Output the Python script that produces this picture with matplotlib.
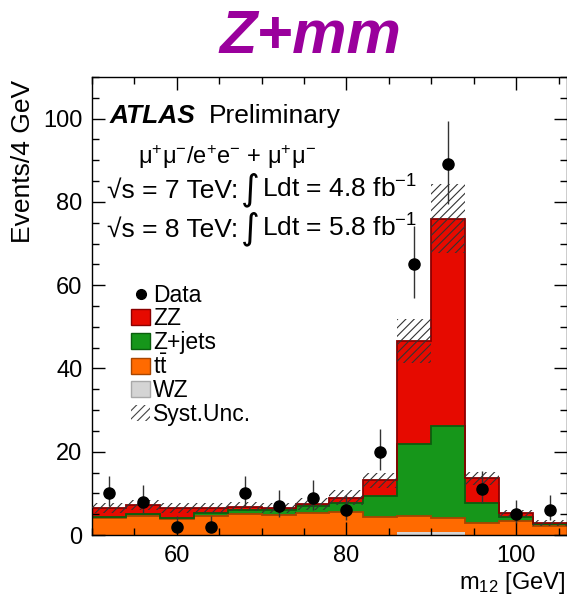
import math

import matplotlib
matplotlib.use('Agg')
import matplotlib.pyplot as plt
from matplotlib.ticker import MultipleLocator
from matplotlib.patches import Patch
from matplotlib.lines import Line2D
import numpy as np

plt.rcParams['font.family'] = ['Liberation Sans', 'DejaVu Sans']
plt.rcParams['mathtext.fontset'] = 'custom'
plt.rcParams['mathtext.rm'] = 'Liberation Sans'
plt.rcParams['mathtext.it'] = 'Liberation Sans:italic'
plt.rcParams['mathtext.bf'] = 'Liberation Sans:bold'
plt.rcParams['hatch.linewidth'] = 0.8

# m12 bins, 4 GeV wide
bin_edges = [50, 54, 58, 62, 66, 70, 74, 78, 82, 86, 90, 94, 98, 102, 106]
data_counts = [10, 8, 2, 2, 10, 7, 9, 6, 20, 65, 89, 11, 5, 6]

# background stack (bottom to top)
wz = [0, 0, 0, 0, 0, 0, 0, 0, 0, 0.7, 0.7, 0, 0, 0]
ttbar = [4.0, 4.6, 3.8, 4.6, 5.1, 4.9, 5.3, 5.6, 4.4, 3.9, 3.5, 3.0, 3.4, 2.2]
zjets = [0.3, 0.4, 0.3, 0.8, 0.8, 1.2, 1.7, 2.2, 5.0, 17.2, 21.9, 4.6, 1.0, 0.5]
zz = [2.3, 2.2, 2.3, 1.2, 0.9, 0.5, 0.5, 1.1, 3.8, 24.7, 49.9, 6.0, 0.8, 0.2]
syst = [1.2, 1.1, 1.2, 1.2, 1.1, 1.2, 1.4, 1.8, 1.8, 5.3, 8.2, 1.5, 0.8, 0.7]

legend_labels = ['Data', 'ZZ', 'Z+jets', r't$\mathrm{\bar{t}}$', 'WZ', 'Syst.Unc.']

RED, RED_EDGE = '#e60a00', '#8a0000'
GREEN, GREEN_EDGE = '#16961a', '#0b5e0e'
ORANGE, ORANGE_EDGE = '#ff6a00', '#a84500'
GREY, GREY_EDGE = '#d4d4d4', '#a8a8a8'


def poisson_cdf(k, mu):
	if k < 0:
		return 0.0
	return sum(math.exp(-mu + i * math.log(mu) - math.lgamma(i + 1)) for i in range(k + 1))


def solve(f, target, lo, hi):
	# f is decreasing in mu
	for _ in range(100):
		mid = 0.5 * (lo + hi)
		if f(mid) > target:
			lo = mid
		else:
			hi = mid
	return 0.5 * (lo + hi)


def garwood(n):
	a = 0.5 * (1 - 0.682689)
	up = solve(lambda m: poisson_cdf(n, m), a, 1e-6, n + 10 * math.sqrt(n + 1) + 10)
	low = 0.0 if n == 0 else solve(lambda m: poisson_cdf(n - 1, m), 1 - a, 1e-6, n + 5)
	return n - low, up - n


fig = plt.figure(figsize=(5.67, 6.04), dpi=100)
ax = fig.add_axes([92 / 567, 1 - 535 / 604, 475 / 567, 458 / 604])

edges = np.array(bin_edges, dtype=float)
centers = 0.5 * (edges[1:] + edges[:-1])

layers = [(wz, GREY, GREY_EDGE), (ttbar, ORANGE, ORANGE_EDGE),
		  (zjets, GREEN, GREEN_EDGE), (zz, RED, RED_EDGE)]
base = np.zeros(len(data_counts))
tops = []
for vals, face, edge in layers:
	top = base + np.array(vals)
	ax.stairs(top, edges, baseline=base, fill=True, facecolor=face, edgecolor='none', zorder=1)
	tops.append((top, edge))
	base = top
for top, edge in tops[1:]:
	ax.stairs(top, edges, baseline=None, color=edge, linewidth=1.3, zorder=2)

total = base
unc = np.array(syst)
ax.stairs(total + unc, edges, baseline=total - unc, fill=True, facecolor='none',
		  edgecolor='#333333', hatch='////', linewidth=0, zorder=3)

errs = [garwood(n) for n in data_counts]
ax.errorbar(centers, data_counts, yerr=[[e[0] for e in errs], [e[1] for e in errs]],
			fmt='o', color='black', ms=8, ecolor='#333333', elinewidth=1.0, capsize=0, zorder=5)

ax.set_xlim(50, 106)
ax.set_ylim(0, 110)
ax.xaxis.set_major_locator(MultipleLocator(20))
ax.xaxis.set_minor_locator(MultipleLocator(5))
ax.yaxis.set_major_locator(MultipleLocator(20))
ax.yaxis.set_minor_locator(MultipleLocator(5))
ax.tick_params(which='both', direction='in', top=True, right=True, width=1, labelsize=17, pad=7)
ax.tick_params(which='major', length=9.5)
ax.tick_params(which='minor', length=5)
for s in ax.spines.values():
	s.set_linewidth(1)

fig.text(23 / 567, 1 - 80 / 604, 'Events/4 GeV', rotation=90, ha='center', va='top', fontsize=19)
fig.text(565 / 567, 1 - 589 / 604, r'm$_{12}$ [GeV]', ha='right', va='baseline', fontsize=17)

fig.text(310 / 567, 1 - 53 / 604, 'Z+mm', ha='center', va='baseline', fontsize=44,
		 fontweight='bold', fontstyle='italic', color='#9a009c')

fig.text(110 / 567, 1 - 123 / 604, 'ATLAS', fontsize=19, fontweight='bold', fontstyle='italic', va='baseline')
fig.text(209 / 567, 1 - 123 / 604, 'Preliminary', fontsize=19, va='baseline')
fig.text(138 / 567, 1 - 164 / 604, r'$\mathrm{\mu^{+}\mu^{-}}$/e$^{+}$e$^{-}$ + $\mathrm{\mu^{+}\mu^{-}}$',
		 fontsize=17, va='baseline')
for base_y, energy, lumi in [(198, '7', '4.8'), (237, '8', '5.8')]:
	fig.text(107 / 567, 1 - base_y / 604, '√s = %s TeV:' % energy, fontsize=19, va='baseline')
	fig.text(241 / 567, 1 - (base_y + 1) / 604, '∫', fontsize=26, va='baseline', family='DejaVu Sans')
	fig.text(262 / 567, 1 - base_y / 604, 'Ldt = %s fb$^{-1}$' % lumi, fontsize=19, va='baseline')

handles = [
	Line2D([], [], marker='o', ls='none', color='black', ms=7),
	Patch(facecolor=RED, edgecolor=RED_EDGE, linewidth=1),
	Patch(facecolor=GREEN, edgecolor=GREEN_EDGE, linewidth=1),
	Patch(facecolor=ORANGE, edgecolor=ORANGE_EDGE, linewidth=1),
	Patch(facecolor=GREY, edgecolor=GREY_EDGE, linewidth=1),
	Patch(facecolor='white', edgecolor='#444444', hatch='////', linewidth=0),
]
fig.legend(handles, legend_labels, loc='upper left', bbox_to_anchor=(131 / 567, 1 - 284 / 604),
		   frameon=False, fontsize=16.5, borderpad=0, labelspacing=0.02, handlelength=0.85,
		   handleheight=0.7, handletextpad=0.12, borderaxespad=0)

fig.savefig('out.png', dpi=100)
